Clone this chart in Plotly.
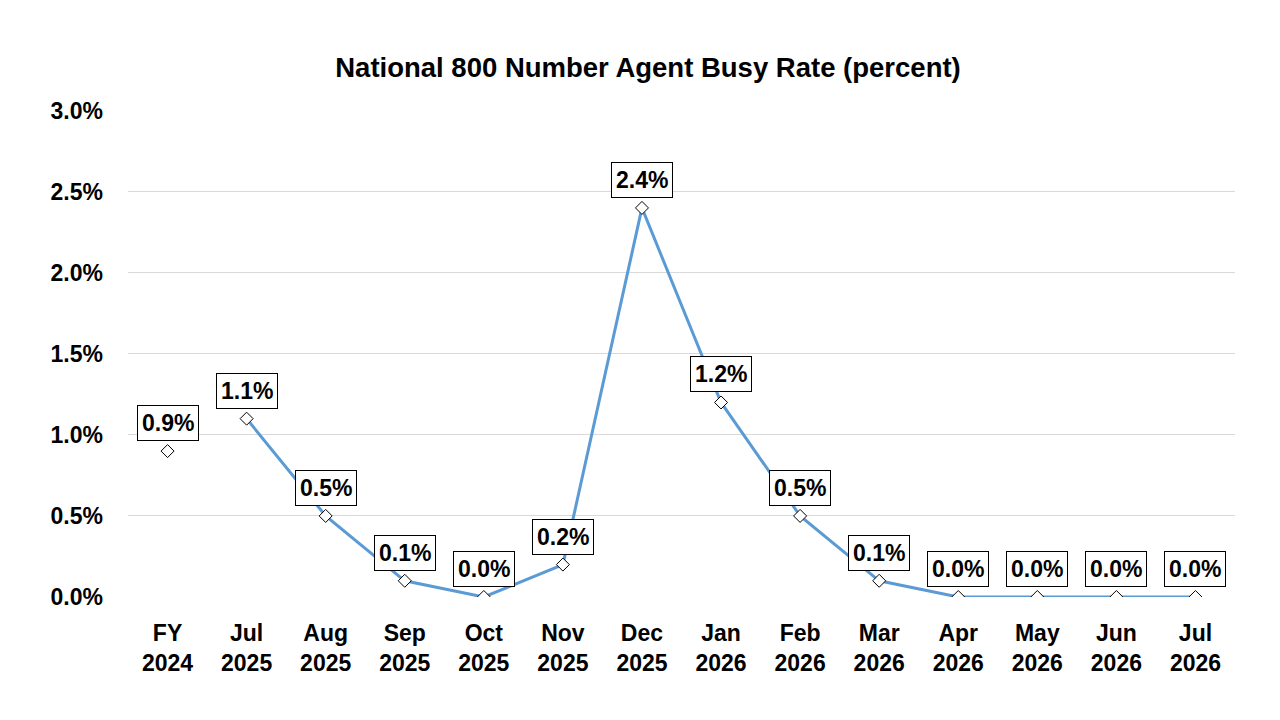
import plotly.graph_objects as go

# data
periods = ["FY<br>2024", "Jul<br>2025", "Aug<br>2025", "Sep<br>2025", "Oct<br>2025",
           "Nov<br>2025", "Dec<br>2025", "Jan<br>2026", "Feb<br>2026", "Mar<br>2026",
           "Apr<br>2026", "May<br>2026", "Jun<br>2026", "Jul<br>2026"]
busy_rate = [0.9, 1.1, 0.5, 0.1, 0.0, 0.2, 2.4, 1.2, 0.5, 0.1, 0.0, 0.0, 0.0, 0.0]
y_ticks = [0, 0.5, 1.0, 1.5, 2.0, 2.5, 3.0]

font = "Liberation Sans, Arial, sans-serif"
diamond = dict(symbol="diamond", size=10, color="white", line=dict(color="black", width=1))

fig = go.Figure()

# FY 2024 stands alone, monthly points are joined
fig.add_trace(go.Scatter(x=periods[:1], y=busy_rate[:1], mode="markers",
                         marker=diamond, showlegend=False))
fig.add_trace(go.Scatter(x=periods[1:], y=busy_rate[1:], mode="lines+markers",
                         line=dict(color="#5B9BD5", width=3), marker=diamond,
                         showlegend=False))

# boxed data labels
for p, v in zip(periods, busy_rate):
    fig.add_annotation(x=p, y=v, text="<b>%.1f%%</b>" % v, showarrow=False,
                       yshift=28, bgcolor="white", bordercolor="black",
                       borderwidth=1, borderpad=4,
                       font=dict(family=font, size=23, color="black"))

# page has an 8px body margin, so margins are shifted by that
fig.update_layout(
    width=1280, height=720,
    paper_bgcolor="white", plot_bgcolor="white",
    margin=dict(l=120, r=53, t=102, b=131),
    title=dict(text="<b>National 800 Number Agent Busy Rate (percent)</b>",
               x=0.5, xanchor="center", y=(720 - 59) / 720, yanchor="middle",
               font=dict(family=font, size=27.5, color="black")),
    font=dict(family=font, color="black"),
)

fig.update_yaxes(range=[0, 3.004], showgrid=True, gridcolor="#D9D9D9", gridwidth=1,
                 zeroline=False, showline=False, ticks="",
                 ticklabelstandoff=24,
                 tickvals=y_ticks, ticktext=["<b>%.1f%%</b>" % t for t in y_ticks],
                 tickfont=dict(family=font, size=23, color="black"))

fig.update_xaxes(range=[-0.5, len(periods) - 0.5],
                 showgrid=False, showline=False, ticks="", zeroline=False,
                 ticklabelstandoff=20,
                 tickvals=periods, ticktext=["<b>%s</b>" % p for p in periods],
                 tickfont=dict(family=font, size=23, color="black"))

fig.write_html("out.html")
